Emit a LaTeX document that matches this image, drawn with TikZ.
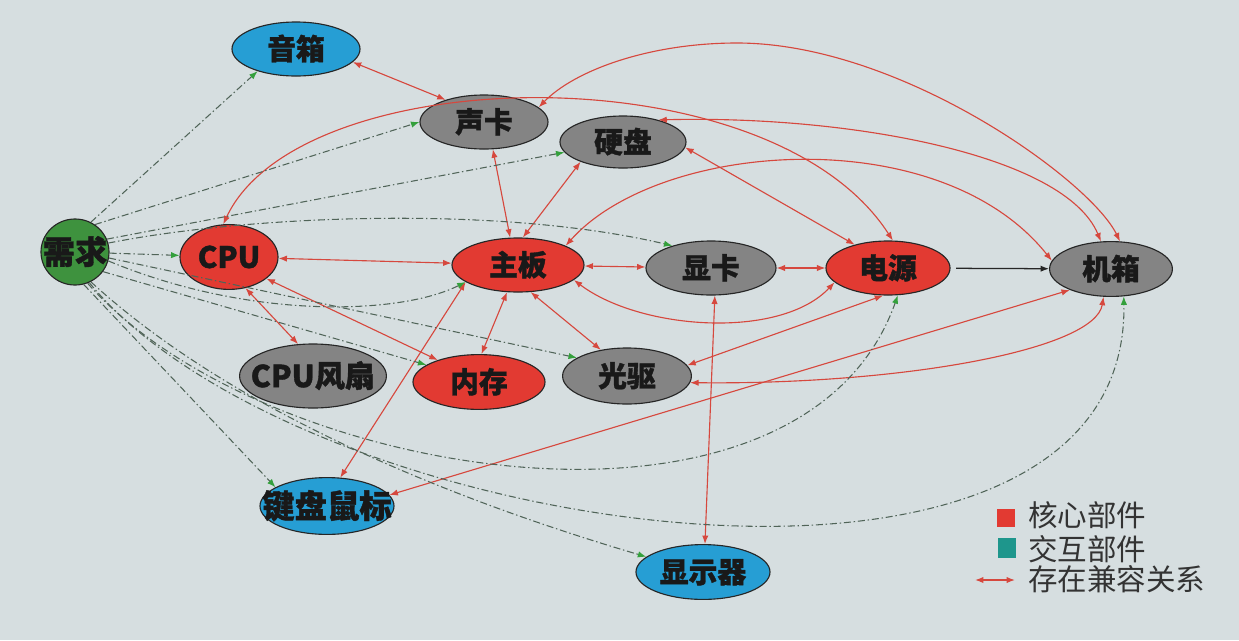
\documentclass[tikz,border=0pt]{standalone}
\usepackage{fontspec}
\setmainfont{Noto Sans CJK SC}[BoldFeatures={FakeBold=1.2}]
\usetikzlibrary{shapes.geometric,arrows.meta}
\definecolor{paper}{RGB}{214,222,224}
\definecolor{corered}{RGB}{226,58,50}
\definecolor{partgray}{RGB}{132,132,132}
\definecolor{ioblue}{RGB}{38,158,212}
\definecolor{needgreen}{RGB}{62,146,62}
\definecolor{linkred}{RGB}{214,72,62}
\definecolor{dashgray}{RGB}{80,100,88}
\definecolor{tipgreen}{RGB}{52,160,60}
\definecolor{legteal}{RGB}{30,150,140}
% text that does not widen the ellipse
\newcommand\parttext[1]{\raisebox{-0.37em}[0pt][0pt]{\makebox[0pt]{#1}}}
\tikzset{
  part/.style={ellipse, draw=black!85, line width=0.8pt, inner sep=0pt,
    minimum width=3.2cm, minimum height=1.35cm, text=black!90,
    font=\bfseries\fontsize{20.5}{20.5}\selectfont},
  core/.style={part, fill=corered},
  other/.style={part, fill=partgray},
  io/.style={part, fill=ioblue},
  compat/.style={<->, draw=linkred, line width=0.8pt},
  need/.style={-{Latex[length=6pt,width=4.5pt,color=tipgreen]}, draw=dashgray,
    line width=0.75pt, dash pattern=on 5pt off 2pt on 1pt off 2pt},
  legtext/.style={anchor=west, inner sep=0pt, text=black!80,
    font=\fontsize{21}{21}\selectfont}
}
\begin{document}
\begin{tikzpicture}[x=0.025cm, y=0.025cm, >={Latex[length=6pt,width=4.5pt]}, line join=round]
 \fill[paper] (0,0) rectangle (1239,-640);
 \useasboundingbox (0,0) rectangle (1239,-640);
 % parts
 \node[part, fill=needgreen, minimum width=1.7cm, minimum height=1.65cm,
   font=\bfseries\fontsize{23}{23}\selectfont] (xq) at (75,-252) {\parttext{需求}};
 \node[io] (yx) at (296,-49) {\parttext{音箱}};
 \node[other] (sk) at (484,-122) {\parttext{声卡}};
 \node[other, minimum width=3.15cm, minimum height=1.3cm] (yp) at (623,-142) {\parttext{硬盘}};
 \node[core, minimum width=2.45cm, minimum height=1.62cm,
   font=\bfseries\fontsize{21}{21}\selectfont] (cpu) at (229,-257) {\parttext{CPU}};
 \node[core, minimum width=3.3cm] (zb) at (518,-265) {\parttext{主板}};
 \node[other, minimum width=3.25cm] (xk) at (711,-268) {\parttext{显卡}};
 \node[core, minimum width=3.1cm] (dy) at (888,-268) {\parttext{电源}};
 \node[other, minimum width=3.07cm, minimum height=1.37cm] (jx) at (1111,-269) {\parttext{机箱}};
 \node[other, minimum width=3.67cm, minimum height=1.6cm,
   font=\bfseries\fontsize{21.5}{21.5}\selectfont] (fs) at (313,-376) {\parttext{CPU风扇}};
 \node[core, minimum width=3.3cm, minimum height=1.37cm] (nc) at (479,-382) {\parttext{内存}};
 \node[other, minimum width=3.22cm, minimum height=1.4cm] (gq) at (627,-376) {\parttext{光驱}};
 \node[io, minimum width=3.35cm, minimum height=1.42cm,
   font=\bfseries\fontsize{23}{23}\selectfont] (jp) at (327,-506) {\parttext{键盘鼠标}};
 \node[io, minimum width=3.35cm, minimum height=1.37cm] (xsq) at (703,-572) {\parttext{显示器}};
 % compatibility
 \draw[compat] (yx.-13) -- (sk.150);
 \draw[compat] (sk.-72) -- (zb.106);
 \draw[compat] (yp.-155) -- (zb.80);
 \draw[compat] (cpu) -- (zb);
 \draw[compat] (zb) -- (xk);
 \draw[compat] (xk) -- (dy);
 \draw[compat] (cpu.-62) -- (fs.115);
 \draw[compat] (cpu.-30) -- (nc.152);
 \draw[compat] (zb.-112) -- (nc.85);
 \draw[compat] (zb.-65) -- (gq.135);
 \draw[compat] (zb.-162) -- (jp.65);
 \draw[compat] (xk.-82) -- (xsq.86);
 \draw[compat] (yp.-5) -- (dy.145);
 \draw[compat] (dy.-100) -- (gq.10);
 \draw[compat] (jx.-153) -- (jp.10);
 \draw[compat] (zb.-15) .. controls (640,-330) and (780,-340) .. (dy.195);
 \draw[compat] (jx.-105) .. controls (1095,-350) and (900,-385) .. (gq.-6);
 \draw[compat] (cpu.100) .. controls (300,-60) and (770,-50) .. (dy.80);
 \draw[compat] (sk.15) .. controls (575,-70) and (650,-43) .. (737,-43)
   .. controls (900,-43) and (1090,-180) .. (jx.72);
 \draw[compat] (yp.32) .. controls (850,-115) and (1065,-155) .. (jx.110);
 \draw[compat] (zb.22) .. controls (660,-140) and (940,-120) .. (jx.172);
 \draw[->, draw=black!85, line width=0.9pt, shorten <=4pt] (dy) -- (jx);
 % demand
 \draw[need] (xq.62) -- (yx.-150);
 \draw[need] (xq.54) -- (sk.180);
 \draw[need] (xq.22) -- (yp.190);
 \draw[need] (xq) -- (cpu);
 \draw[need] (xq.15) .. controls (250,-215) and (500,-205) .. (xk.150);
 \draw[need] (xq.-15) .. controls (250,-320) and (400,-315) .. (zb.-162);
 \draw[need] (xq.-10) -- (gq.160);
 \draw[need] (xq.-35) -- (nc.162);
 \draw[need] (xq.-75) -- (jp.160);
 \draw[need] (xq.-68) .. controls (260,-480) and (800,-570) .. (dy.-70);
 \draw[need] (xq.-65) .. controls (300,-540) and (1130,-660) .. (jx.-65);
 \draw[need] (xq.-62) .. controls (220,-400) and (420,-490) .. (xsq.165);
 % legend
 \node[fill=corered, inner sep=0pt, minimum size=0.43cm] (kred) at (1006,-518) {};
 \node[legtext] (kredt) at (1028,-515) {核心部件};
 \node[fill=legteal, inner sep=0pt, minimum width=0.43cm, minimum height=0.48cm] (kteal) at (1007,-548) {};
 \node[legtext] (ktealt) at (1028,-549) {交互部件};
 \coordinate (ka) at (975,-580);
 \coordinate (kb) at (1015,-580);
 \draw[compat] (ka) -- (kb);
 \node[legtext] (kcompt) at (1028,-579) {存在兼容关系};
\end{tikzpicture}
\end{document}
